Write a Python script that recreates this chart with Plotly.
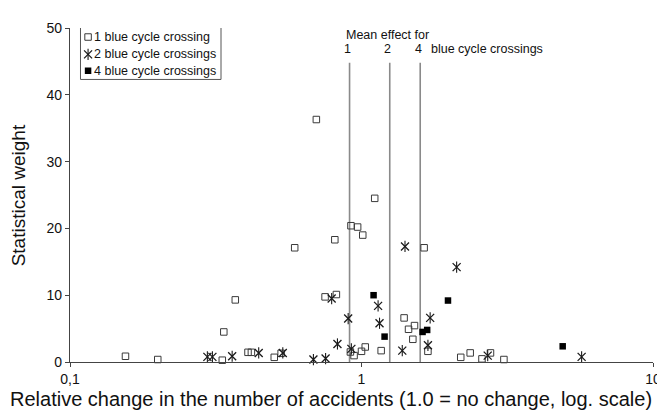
import numpy as np
import plotly.graph_objects as go

# ---- data ----
one_x = [0.155, 0.200, 0.333, 0.337, 0.369, 0.408, 0.419, 0.502, 0.53, 0.59, 0.70, 0.75,
         0.81, 0.82, 0.916, 0.92, 0.943, 0.97, 1.00, 1.01, 1.03, 1.11, 1.168, 1.40, 1.45,
         1.50, 1.52, 1.64, 1.69, 2.19, 2.36, 2.59, 2.77, 3.08]
one_y = [0.86, 0.37, 0.27, 4.5, 9.3, 1.45, 1.45, 0.7, 1.3, 17.1, 36.3, 9.75,
         18.3, 10.1, 1.5, 20.4, 0.96, 20.2, 1.6, 19.0, 2.25, 24.5, 1.7, 6.6, 4.9,
         3.4, 5.45, 17.1, 1.6, 0.7, 1.36, 0.47, 1.36, 0.37]

two_x = [0.296, 0.308, 0.360, 0.444, 0.537, 0.684, 0.753, 0.79, 0.827, 0.90, 0.923,
         1.14, 1.153, 1.38, 1.41, 1.69, 1.72, 2.12, 2.71, 5.69]
two_y = [0.77, 0.77, 0.86, 1.36, 1.36, 0.37, 0.52, 9.5, 2.7, 6.5, 1.96,
         8.4, 5.8, 1.7, 17.3, 2.5, 6.6, 14.2, 0.96, 0.77]

four_x = [1.10, 1.20, 1.62, 1.68, 1.98, 4.90]
four_y = [10.0, 3.8, 4.5, 4.8, 9.2, 2.35]

mean_effects = [0.91, 1.25, 1.59]
mean_labels = ["1", "2", "4"]
mean_top = 44.8

legend_labels = ["1 blue cycle crossing", "2 blue cycle crossings", "4 blue cycle crossings"]
x_tickvals = [0.1, 1, 10]
x_ticktext = ["0,1", "1", "10"]
y_tickvals = [0, 10, 20, 30, 40, 50]

x_title = "Relative change in the number of accidents (1.0 = no change, log. scale)"
y_title = "Statistical weight"

# ---- style ----
FONT = "Liberation Sans, Arial, sans-serif"
AX = "#444444"
MK = "#3a3a3a"
STAR = "#1a1a1a"
LINE_GREY = "#8a8a8a"
TXT = "#111111"

fig = go.Figure()

# mean effect vertical lines
lx, ly = [], []
for m in mean_effects:
    lx += [m, m, None]
    ly += [0, mean_top, None]
fig.add_trace(go.Scatter(x=lx, y=ly, mode="lines", line=dict(color=LINE_GREY, width=1.6),
                         showlegend=False, hoverinfo="skip"))

sq_open = dict(symbol="square-open", size=6.5, color=MK, line=dict(width=1, color=MK))
star_x = dict(symbol="x-thin-open", size=8, color=STAR, line=dict(width=1.3, color=STAR))
star_v = dict(symbol="line-ns-open", size=8, color=STAR, line=dict(width=1.1, color=STAR))
sq_fill = dict(symbol="square", size=6.5, color="#000000", line=dict(width=0))

# data
fig.add_trace(go.Scatter(x=one_x, y=one_y, mode="markers", name=legend_labels[0],
                         marker=sq_open, cliponaxis=False))
fig.add_trace(go.Scatter(x=two_x, y=two_y, mode="markers", name=legend_labels[1],
                         marker=star_x, cliponaxis=False))
fig.add_trace(go.Scatter(x=two_x, y=two_y, mode="markers", marker=star_v,
                         cliponaxis=False, hoverinfo="skip"))
fig.add_trace(go.Scatter(x=four_x, y=four_y, mode="markers", name=legend_labels[2],
                         marker=sq_fill, cliponaxis=False))

# custom legend on an overlay axis (0..1 across the plot area)
leg_x = 0.031
leg_rows = [0.973, 0.921, 0.872]
for mk, ry in [(sq_open, leg_rows[0]), (star_x, leg_rows[1]), (star_v, leg_rows[1]), (sq_fill, leg_rows[2])]:
    fig.add_trace(go.Scatter(x=[leg_x], y=[ry], xaxis="x2", yaxis="y2", mode="markers",
                             marker=mk, hoverinfo="skip", cliponaxis=False))

annotations = []
for lab, ry in zip(legend_labels, leg_rows):
    annotations.append(dict(xref="x2", yref="y2", x=leg_x, y=ry, text=lab, showarrow=False,
                            xanchor="left", yanchor="middle", xshift=4,
                            font=dict(family=FONT, size=12.5, color=TXT)))

# mean effect labels
for m, lab in zip(mean_effects, mean_labels):
    annotations.append(dict(xref="x", yref="y", x=np.log10(m), y=46.9, text=lab, showarrow=False,
                            xanchor="center", yanchor="middle", xshift=-2,
                            font=dict(family=FONT, size=12.5, color=TXT)))
annotations.append(dict(xref="x", yref="y", x=np.log10(mean_effects[0]), y=49.0, text="Mean effect for",
                        showarrow=False, xanchor="left", yanchor="middle", xshift=-6,
                        font=dict(family=FONT, size=12.5, color=TXT)))
annotations.append(dict(xref="x", yref="y", x=np.log10(mean_effects[2]), y=46.9, text="blue cycle crossings",
                        showarrow=False, xanchor="left", yanchor="middle", xshift=9,
                        font=dict(family=FONT, size=12.5, color=TXT)))

# axis titles
annotations.append(dict(xref="paper", yref="paper", x=0.448, y=-0.111, text=x_title, showarrow=False,
                        xanchor="center", yanchor="middle", font=dict(family=FONT, size=20, color=TXT)))
annotations.append(dict(xref="paper", yref="paper", x=-0.0886, y=0.50, text=y_title, showarrow=False,
                        textangle=-90, xanchor="center", yanchor="middle",
                        font=dict(family=FONT, size=19, color=TXT)))

fig.update_layout(
    width=665, height=413,
    margin=dict(l=62, r=16, t=17, b=58.5),
    paper_bgcolor="white", plot_bgcolor="white",
    showlegend=False,
    font=dict(family=FONT, size=14, color=TXT),
    xaxis=dict(type="log", range=[-1, 1], tickvals=x_tickvals, ticktext=x_ticktext,
               showline=True, linecolor=AX, linewidth=1.2, ticks="outside", ticklen=4,
               tickcolor=AX, showgrid=False, zeroline=False, tickfont=dict(size=14)),
    yaxis=dict(range=[0, 50], tickvals=y_tickvals, showline=True, linecolor=AX, linewidth=1.2,
               ticks="outside", ticklen=4, tickcolor=AX, showgrid=False, zeroline=False,
               tickfont=dict(size=14)),
    xaxis2=dict(overlaying="x", range=[0, 1], visible=False, fixedrange=True),
    yaxis2=dict(overlaying="y", range=[0, 1], visible=False, fixedrange=True),
    annotations=annotations,
    shapes=[dict(type="rect", xref="x2", yref="y2", x0=0.018, x1=0.259, y0=0.846, y1=1.006,
                 line=dict(color="#555555", width=1), fillcolor="rgba(0,0,0,0)")],
)

fig.write_html("out.html")
